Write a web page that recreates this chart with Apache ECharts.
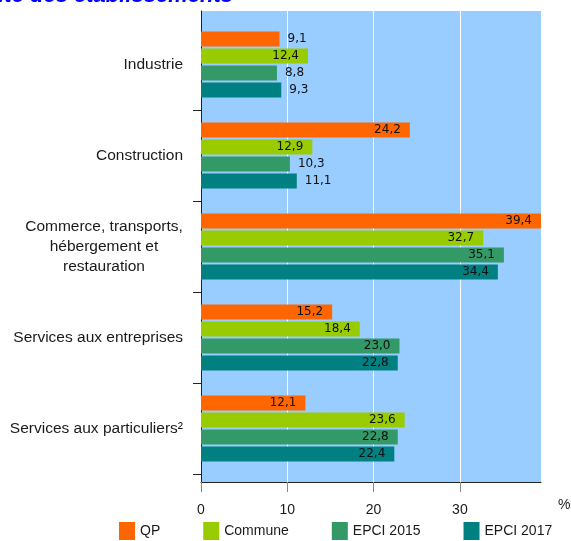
<!DOCTYPE html>
<html>
<head>
<meta charset="utf-8">
<script src="https://cdn.jsdelivr.net/npm/echarts@6/dist/echarts.min.js"></script>
<style>
html,body{margin:0;padding:0;background:#fff;}
#main{width:571px;height:541px;}
</style>
</head>
<body>
<div id="main"></div>
<script>
const categories = ['Industrie', 'Construction', 'Commerce, transports,\nhébergement et\nrestauration', 'Services aux entreprises', 'Services aux particuliers²'];
const seriesNames = ['QP', 'Commune', 'EPCI 2015', 'EPCI 2017'];
const qp = [9.1, 24.2, 39.4, 15.2, 12.1];
const commune = [12.4, 12.9, 32.7, 18.4, 23.6];
const epci2015 = [8.8, 10.3, 35.1, 23.0, 22.8];
const epci2017 = [9.3, 11.1, 34.4, 22.8, 22.4];
const xTicks = [0, 10, 20, 30];
const xMax = 39.4;
const titleText = 'activité des établissements';
const unitText = '%';

const colors = ['#FF6600', '#99CC00', '#339966', '#008080'];
const seriesValues = [qp, commune, epci2015, epci2017];
const FONT = '"Liberation Sans", Arial, sans-serif';

function fmt(v) { return v.toFixed(1).replace('.', ','); }

const chart = echarts.init(document.getElementById('main'), null, {renderer: 'canvas'});

const series = seriesNames.map((name, i) => ({
  name: name,
  type: 'bar',
  xAxisIndex: 1,
  yAxisIndex: 1,
  barWidth: 15,
  barGap: '13%',
  itemStyle: {color: colors[i]},
  label: {
    show: true,
    fontFamily: '"DejaVu Sans", sans-serif',
    fontSize: 12,
    color: '#111',
    formatter: p => fmt(p.value)
  },
  data: seriesValues[i].map(v => ({
    value: v,
    label: v >= 12 ? {position: 'insideRight', distance: 9} : {position: 'right', distance: 8}
  }))
}));

const option = {
  animation: false,
  backgroundColor: '#ffffff',
  grid: [
    {left: 201, top: 11, width: 340, height: 471, show: true, backgroundColor: '#99CCFF', borderWidth: 0, containLabel: false},
    {left: 201, top: 19, width: 340, height: 455, containLabel: false}
  ],
  xAxis: [
    {
      type: 'value', gridIndex: 0, min: 0, max: xMax, interval: 10,
      axisLine: {show: true, lineStyle: {color: '#222', width: 1}},
      axisTick: {show: true, length: 10, lineStyle: {color: '#888'}, customValues: xTicks},
      axisLabel: {show: true, margin: 21, fontSize: 14, color: '#1a1a1a', fontFamily: FONT, customValues: xTicks},
      splitLine: {show: true, lineStyle: {color: '#ffffff', width: 1}}
    },
    {
      type: 'value', gridIndex: 1, min: 0, max: xMax,
      axisLine: {show: false}, axisTick: {show: false}, axisLabel: {show: false}, splitLine: {show: false}
    }
  ],
  yAxis: [
    {
      type: 'value', gridIndex: 0,
      axisLine: {show: true, lineStyle: {color: '#222', width: 1}},
      axisTick: {show: false}, axisLabel: {show: false}, splitLine: {show: false}
    },
    {
      type: 'category', gridIndex: 1, inverse: true, data: categories,
      axisLine: {show: false},
      axisTick: {show: true, length: 8, inside: false, lineStyle: {color: '#222'}, interval: function (i) { return i !== 0; }},
      axisLabel: {
        margin: 18, fontSize: 15.5, color: '#1a1a1a', fontFamily: FONT,
        formatter: function (v) {
          if (v.indexOf('\n') >= 0) {
            return v.split('\n').map(s => '{c|' + s + '}').join('\n');
          }
          return v;
        },
        rich: {
          c: {width: 158, align: 'center', fontSize: 15.5, lineHeight: 20, color: '#1a1a1a', fontFamily: FONT}
        }
      },
      splitLine: {show: false}
    }
  ],
  legend: {
    data: seriesNames,
    left: 114, top: 517,
    itemWidth: 16, itemHeight: 18, itemGap: 43,
    icon: 'rect',
    textStyle: {fontSize: 14, color: '#1a1a1a', fontFamily: FONT}
  },
  graphic: [
    {
      type: 'text', x: 233, y: -4,
      style: {text: titleText, align: 'right', verticalAlign: 'middle', fill: '#0000FF', fontSize: 22, fontWeight: 'bold', fontStyle: 'italic', fontFamily: FONT}
    },
    {
      type: 'text', x: 558, y: 505,
      style: {text: unitText, align: 'left', verticalAlign: 'middle', fill: '#1a1a1a', fontSize: 14, fontFamily: FONT}
    }
  ],
  series: series
};

chart.setOption(option);
</script>
</body>
</html>
